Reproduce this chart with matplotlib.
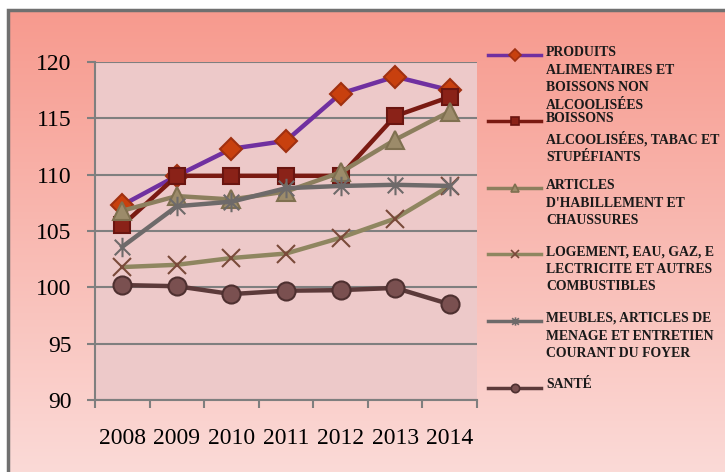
import numpy as np
import matplotlib
matplotlib.use("Agg")
import matplotlib.pyplot as plt
from matplotlib.lines import Line2D
from matplotlib.patches import Rectangle
from matplotlib.path import Path

# data
years = ["2008", "2009", "2010", "2011", "2012", "2013", "2014"]
produits = [107.3, 109.9, 112.3, 113.0, 117.2, 118.7, 117.5]
boissons = [105.5, 109.9, 109.9, 109.9, 109.9, 115.2, 116.9]
habillement = [106.8, 108.1, 107.8, 108.5, 110.2, 113.1, 115.6]
logement = [101.8, 102.0, 102.6, 103.0, 104.4, 106.1, 109.0]
meubles = [103.6, 107.2, 107.6, 108.8, 109.0, 109.1, 109.0]
sante = [100.2, 100.1, 99.4, 99.7, 99.75, 99.95, 98.5]

labels = [
    "PRODUITS\nALIMENTAIRES ET\nBOISSONS NON\nALCOOLISÉES",
    "BOISSONS\nALCOOLISÉES, TABAC ET\nSTUPÉFIANTS",
    "ARTICLES\nD'HABILLEMENT ET\nCHAUSSURES",
    "LOGEMENT, EAU, GAZ, E\nLECTRICITE ET AUTRES\nCOMBUSTIBLES",
    "MEUBLES, ARTICLES DE\nMENAGE ET ENTRETIEN\nCOURANT DU FOYER",
    "SANTÉ",
]
series = [produits, boissons, habillement, logement, meubles, sante]

# excel-like star: vertical bar plus an X
star = Path([(0, -1), (0, 1), (-0.8, -0.8), (0.8, 0.8), (-0.8, 0.8), (0.8, -0.8)],
            [Path.MOVETO, Path.LINETO] * 3)

# line colour, marker, marker face, marker edge, marker size
styles = [
    ("#7030A0", "D", "#C8400E", "#A03010", 11),
    ("#7A1A12", "s", "#8A2218", "#6A1510", 12),
    ("#8C7F5E", "^", "#9C8B6A", "#7F7050", 13),
    ("#8F8660", "x", "#7A4A3A", "#7A4A3A", 13),
    ("#6E6A6A", star, "#6E6A6A", "#6E6A6A", 14),
    ("#5C3A3A", "o", "#7A5050", "#4E3030", 13),
]

W, H = 725, 472
fig = plt.figure(figsize=(W / 100, H / 100), dpi=100)
fig.patch.set_facecolor("white")

# gradient background with grey frame
bg = fig.add_axes([8 / W, 0, 1 - 8 / W, 1 - 10 / H])
grad = np.linspace(0, 1, 256)[:, None]
top = np.array([0.969, 0.604, 0.557])
bot = np.array([0.984, 0.855, 0.843])
img = top + (bot - top) * grad[..., None]
bg.imshow(img, aspect="auto", extent=[0, 1, 0, 1])
bg.set_xlim(0, 1)
bg.set_ylim(0, 1)
bg.axis("off")
fig.add_artist(Rectangle((8 / W, -0.01), 1, 1 - 10 / H + 0.01, transform=fig.transFigure,
                         fill=False, edgecolor="#707070", linewidth=2.5))

ax = fig.add_axes([95 / W, 1 - 400 / H, 382 / W, 338 / H])
ax.set_facecolor("#EDC9C9")
x = np.arange(len(years))
for vals, (lc, mk, mf, me, ms) in zip(series, styles):
    ax.plot(x, vals, color=lc, linewidth=3.2, marker=mk, markersize=ms,
            markerfacecolor=mf, markeredgecolor=me, markeredgewidth=1.5, zorder=3)

ax.set_xlim(-0.5, 6.5)
ax.set_ylim(90, 120)
ax.set_yticks(range(90, 121, 5))
ax.yaxis.grid(True, color="#7F7F7F", linewidth=1.5)
ax.set_axisbelow(True)
ax.set_xticks(x)
ax.set_xticklabels(years)
ax.set_xticks(np.arange(-0.5, 7, 1), minor=True)
ax.tick_params(axis="x", which="major", length=0, pad=20)
ax.tick_params(axis="x", which="minor", length=6, width=1.5, color="#7F7F7F")
ax.tick_params(axis="y", length=6, width=1.5, color="#7F7F7F", pad=11)
for lab in ax.get_xticklabels() + ax.get_yticklabels():
    lab.set_fontfamily("Liberation Serif")
    lab.set_fontsize(17)
for s in ["top", "right"]:
    ax.spines[s].set_visible(False)
for s in ["left", "bottom"]:
    ax.spines[s].set_color("#7F7F7F")
    ax.spines[s].set_linewidth(1.5)

# legend drawn by hand so the handles line up with the first text line
y0 = 55
for i, (lab, (lc, mk, mf, me, ms)) in enumerate(zip(labels, styles)):
    yy = 1 - (y0 + i * 66.5) / H
    fig.add_artist(Line2D([488 / W, 541 / W], [yy, yy], transform=fig.transFigure,
                          color=lc, linewidth=2.5))
    fig.add_artist(Line2D([514.5 / W], [yy], transform=fig.transFigure, marker=mk,
                          markersize=6, markerfacecolor=mf, markeredgecolor=me,
                          markeredgewidth=1.2, linestyle="none"))
    fig.text(546 / W, yy + 9 / H, lab, ha="left", va="top", fontsize=9.9,
             fontweight="bold", family="Liberation Serif", color="#1a1a1a",
             linespacing=1.45)

fig.savefig("out.png", dpi=100)
